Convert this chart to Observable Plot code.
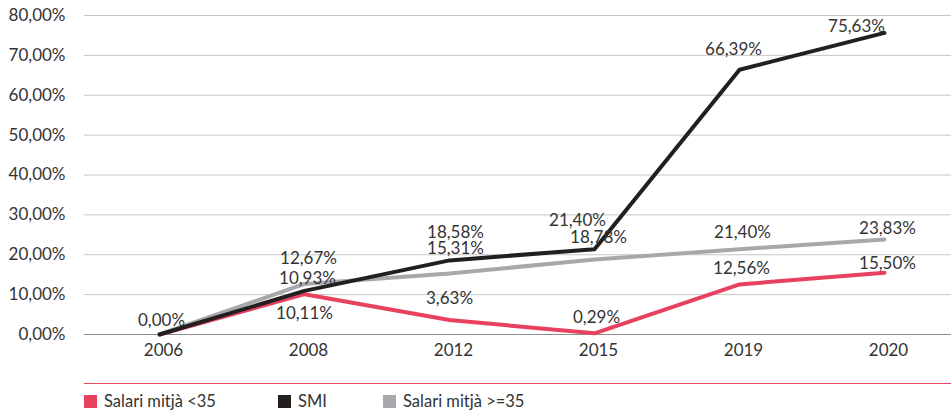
<!DOCTYPE html>
<html><head><meta charset="utf-8">
<script src="https://cdn.jsdelivr.net/npm/d3@7"></script>
<script src="https://cdn.jsdelivr.net/npm/@observablehq/plot@0.6"></script>
<style>
body{margin:0;background:#fff;font-family:Lato,"Noto Sans",sans-serif;}
#wrap{position:relative;width:951px;height:412px;overflow:hidden;}
#sep{position:absolute;left:84px;right:0;top:383px;border-top:1px solid #e5485f;}
.item{position:absolute;top:391px;font-size:16.5px;color:#333;line-height:20px;white-space:nowrap;}
.sw{display:inline-block;width:13px;height:13px;vertical-align:-1px;margin-right:7px;}
</style>
</head><body>
<div id="wrap"><div id="chart"></div><div id="sep"></div><div id="legend"></div></div>
<script>
const years = ["2006","2008","2012","2015","2019","2020"];
const seriesNames = ["Salari mitjà <35","SMI","Salari mitjà >=35"];
const under35 = [0,10.11,3.63,0.29,12.56,15.50];
const smi = [0,10.93,18.58,21.40,66.39,75.63];
const over35 = [0,12.67,15.31,18.78,21.40,23.83];
const yTicks = [0,10,20,30,40,50,60,70,80];
const colors = ["#e8415f","#231f20","#a7a8ab"];

// label nudges [dx, dy] per series, per year (null = not shown)
const nudges = [
  [null,[0,19],[0,-21],[2,-16],[2,-16],[3,-9]],
  [[2,-14],[3,-12],[6,-28],[-17,-29],[-6,-20],[-28,-6]],
  [null,[4,-25],[6,-25],[4,-22],[3,-17],[3,-11]]
];

const seriesValues = [under35, smi, over35];
const rows = [];
seriesValues.forEach((vals, s) => vals.forEach((v, i) => rows.push({series: seriesNames[s], s, i, year: years[i], value: v})));
const fmt = v => v.toFixed(2).replace(".", ",") + "%";
const FS = 17;

const marks = [
  Plot.ruleY(yTicks.filter(d => d > 0), {stroke: "#c6c6c6", strokeWidth: 1}),
  Plot.ruleY([0], {stroke: "#8e8e8e", strokeWidth: 1}),
  Plot.axisY({ticks: yTicks, tickSize: 0, tickPadding: 19, tickFormat: fmt, fontSize: FS, fill: "#333"}),
  Plot.axisX({tickSize: 0, tickPadding: 9, fontSize: FS, fill: "#333", dx: 4})
];
[0, 2, 1].forEach(s => {
  marks.push(Plot.line(rows.filter(r => r.s === s), {x: "year", y: "value", stroke: colors[s], strokeWidth: 4, strokeLinecap: "round", strokeLinejoin: "round"}));
});
rows.forEach(r => {
  const n = nudges[r.s][r.i];
  if (!n) return;
  marks.push(Plot.text([r], {x: "year", y: "value", text: d => fmt(d.value), dx: n[0], dy: n[1], fontSize: FS, fill: "#333", textAnchor: "middle", lineAnchor: "middle"}));
});

const chart = Plot.plot({
  width: 951, height: 372,
  marginTop: 15, marginBottom: 38, marginLeft: 84, marginRight: 0,
  style: {fontFamily: "Lato, 'Noto Sans', sans-serif", color: "#333", background: "#fff"},
  x: {type: "point", domain: years, range: [157, 885], padding: 0, label: null},
  y: {domain: [0, 80], label: null},
  marks
});
document.getElementById("chart").appendChild(chart);

const legendX = [84, 278, 383];
const leg = document.getElementById("legend");
seriesNames.forEach((name, s) => {
  const d = document.createElement("div");
  d.className = "item";
  d.style.left = legendX[s] + "px";
  d.innerHTML = `<span class="sw" style="background:${colors[s]}"></span>`;
  d.appendChild(document.createTextNode(name));
  leg.appendChild(d);
});
</script>
</body></html>
